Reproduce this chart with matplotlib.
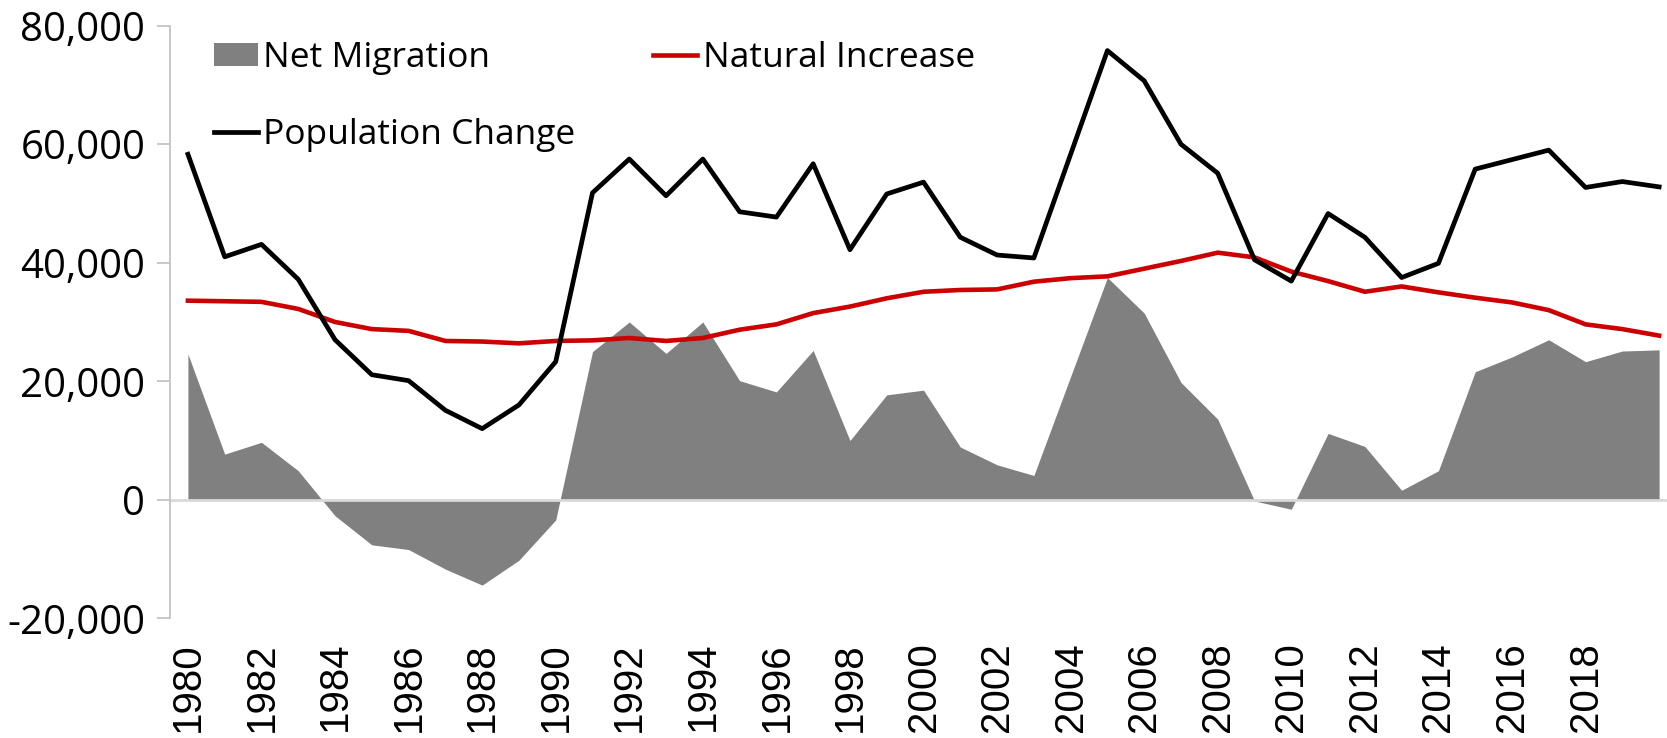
import numpy as np
import matplotlib.pyplot as plt
from matplotlib.patches import Patch
from matplotlib.lines import Line2D
from matplotlib.ticker import FuncFormatter

# data (thousands)
years = list(range(1980, 2021))
net_migration = [24.6, 7.7, 9.7, 4.9, -2.7, -7.6, -8.4, -11.7, -14.4, -10.2, -3.4,
                 25.0, 30.0, 24.7, 30.0, 20.1, 18.2, 25.2, 10.0, 17.7, 18.5,
                 8.9, 5.9, 4.1, 20.8, 37.5, 31.5, 19.8, 13.6, -0.2, -1.6,
                 11.2, 9.0, 1.6, 4.9, 21.6, 24.1, 27.0, 23.3, 25.1, 25.3]
natural_increase = [33.6, 33.5, 33.4, 32.2, 30.0, 28.8, 28.5, 26.8, 26.7, 26.4, 26.8,
                    26.9, 27.3, 26.8, 27.3, 28.7, 29.6, 31.5, 32.6, 34.0, 35.1,
                    35.4, 35.5, 36.8, 37.4, 37.7, 39.0, 40.3, 41.7, 40.9, 38.5,
                    36.9, 35.1, 36.0, 35.0, 34.1, 33.3, 32.0, 29.6, 28.8, 27.7]
population_change = [58.3, 41.0, 43.1, 37.2, 27.0, 21.1, 20.1, 15.1, 12.0, 16.0, 23.3,
                     51.8, 57.5, 51.3, 57.5, 48.6, 47.7, 56.7, 42.2, 51.6, 53.6,
                     44.3, 41.3, 40.8, 58.3, 75.8, 70.7, 60.0, 55.1, 40.5, 36.9,
                     48.3, 44.3, 37.5, 39.9, 55.8, 57.4, 59.0, 52.7, 53.7, 52.8]

yrs = np.array(years)
nm = np.array(net_migration) * 1000
ni = np.array(natural_increase) * 1000
pc = np.array(population_change) * 1000

plt.rcParams['font.family'] = ['Open Sans', 'DejaVu Sans']

fig = plt.figure(figsize=(16.67, 7.38), dpi=100)
ax = fig.add_axes([0.1017, 0.1622, 0.9046, 0.803])

ax.fill_between(yrs, 0, nm, color='#808080', lw=0, zorder=1)
ax.axhline(0, color='#D9D9D9', lw=2, zorder=2)
ax.plot(yrs, ni, color='#CC0000', lw=3.3, zorder=3)
ax.plot(yrs, pc, color='black', lw=3.4, zorder=4)

ax.set_xlim(1979.5, 2020.5)
ax.set_ylim(-20000, 80000)
ax.set_yticks(np.arange(-20000, 80001, 20000))
ax.yaxis.set_major_formatter(FuncFormatter(lambda v, p: f"{int(v):,}"))
ax.set_xticks(np.arange(1980, 2019, 2))
ax.set_xticklabels([str(y) for y in range(1980, 2019, 2)], rotation=90,
                   fontsize=29, family='Liberation Sans')
ax.tick_params(axis='x', length=0, pad=17)
ax.tick_params(axis='y', labelsize=29, length=9.5, width=1.2, color='#BFBFBF', pad=8)

for s in ['top', 'right', 'bottom']:
    ax.spines[s].set_visible(False)
ax.spines['left'].set_color('#BFBFBF')
ax.spines['left'].set_linewidth(1.2)

handles = [Patch(facecolor='#808080', edgecolor='none'),
           Line2D([], [], color='black', lw=3.4),
           Line2D([], [], color='#CC0000', lw=3.3)]
labels = ['Net Migration', 'Population Change', 'Natural Increase']
fig.legend(handles, labels, loc='upper left', bbox_to_anchor=(0.1284, 0.945),
           ncol=2, frameon=False, fontsize=25.5, borderpad=0, borderaxespad=0,
           handlelength=1.24, handleheight=0.63, handletextpad=0.15,
           labelspacing=1.22, columnspacing=2.2)

fig.savefig('out.png', dpi=100)
